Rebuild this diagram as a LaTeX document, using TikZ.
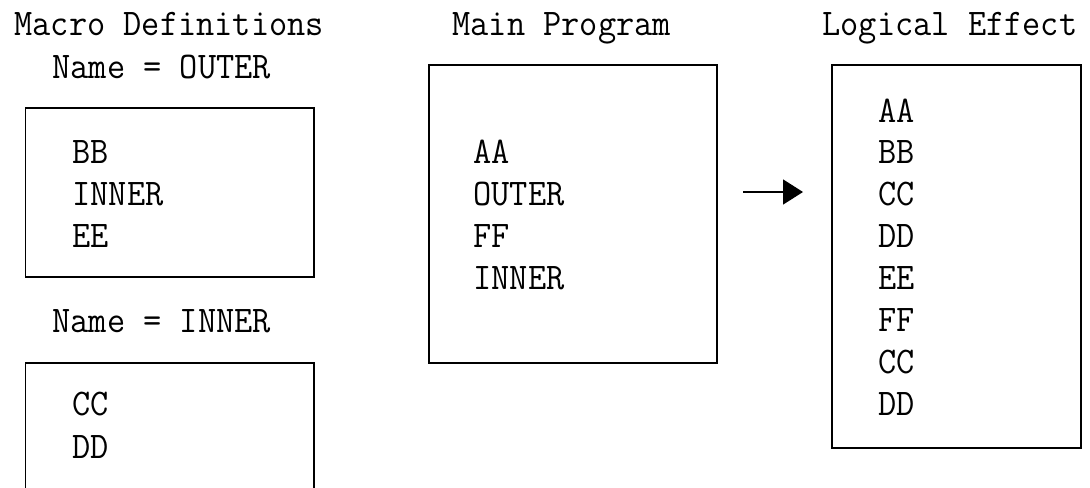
\documentclass[tikz,border=0pt]{standalone}
\usepackage{graphicx}
\usetikzlibrary{arrows.meta}
\newcommand\mtxt[1]{\scalebox{0.94}[1]{#1}}
\begin{document}
\begin{tikzpicture}[x=0.5pt,y=-0.5pt,
  txt/.style={anchor=base west,inner sep=0pt,font=\ttfamily\fontsize{18.8}{21}\selectfont},
  box/.style={draw,line width=0.75pt,anchor=north west,inner sep=0pt},
  link/.style={line width=0.75pt,-{Triangle[length=10pt,width=12.5pt]}}]
\clip (0,0) rectangle (1090,487);
\useasboundingbox (0,0) rectangle (1090,487);
% titles
\node[txt] (t1) at (14,35) {\mtxt{Macro Definitions}};
\node[txt] (t2) at (452,35) {\mtxt{Main Program}};
\node[txt] (t3) at (822,35) {\mtxt{Logical Effect}};
\node[txt] (n1) at (52,78) {\mtxt{Name = OUTER}};
\node[txt] (n2) at (52,332) {\mtxt{Name = INNER}};
% boxes
\node[box,minimum width=144.25pt,minimum height=84.5pt] (outer) at (24.5,107) {};
\node[box,minimum width=144.25pt,minimum height=80pt] (inner) at (24.5,362) {};
\node[box,minimum width=144pt,minimum height=149pt] (main) at (428,64) {};
\node[box,minimum width=124.5pt,minimum height=191.5pt] (logic) at (831,64) {};
% box contents
\foreach \t [count=\i] in {BB,INNER,EE}
  \node[txt] (o\i) at (72,{163+42*(\i-1)}) {\mtxt{\t}};
\foreach \t [count=\i] in {CC,DD}
  \node[txt] (c\i) at (72,{415+43*(\i-1)}) {\mtxt{\t}};
\foreach \t [count=\i] in {AA,OUTER,FF,INNER}
  \node[txt] (m\i) at (473,{163+42*(\i-1)}) {\mtxt{\t}};
\foreach \t [count=\i] in {AA,BB,CC,DD,EE,FF,CC,DD}
  \node[txt] (l\i) at (878,{122+41.9*(\i-1)}) {\mtxt{\t}};
% arrow
\coordinate (a1) at (743,192);
\coordinate (a2) at (803,192);
\draw[link] (a1) -- (a2);
\end{tikzpicture}
\end{document}
